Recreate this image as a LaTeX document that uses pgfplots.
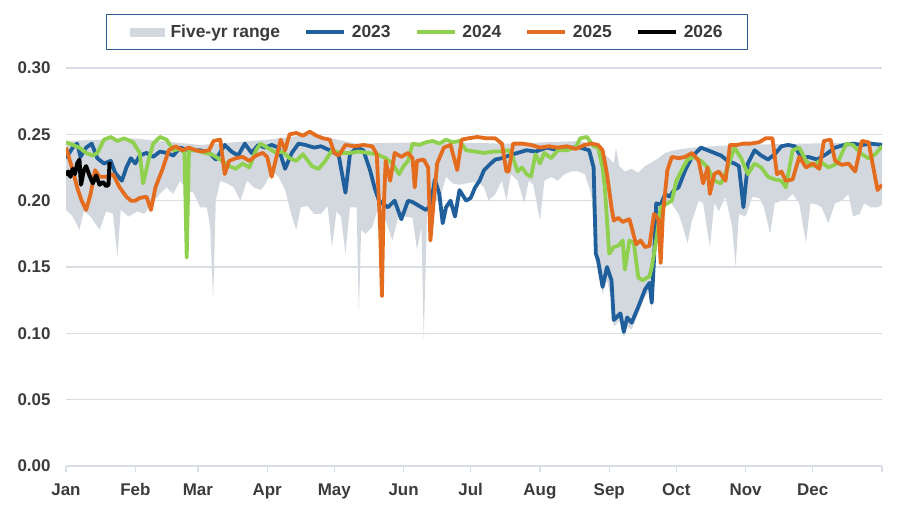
\documentclass[border=0pt]{standalone}
\usepackage{pgfplots}
\pgfplotsset{compat=1.18}
\usepgfplotslibrary{fillbetween}
\usepackage{fontspec}
\setmainfont{Liberation Sans}
\definecolor{c23}{HTML}{1F5F9B}
\definecolor{c24}{HTML}{8FD14F}
\definecolor{c25}{HTML}{E36C1F}
\definecolor{rangegray}{HTML}{D3D8DF}
\definecolor{gridgray}{HTML}{D9DEE5}
\definecolor{txt}{HTML}{3B3B3B}
\definecolor{legframe}{HTML}{2A5C8E}
\begin{document}
\begin{tikzpicture}
\begin{axis}[
  name=ax,
  scale only axis,
  width=816bp, height=398bp,
  xmin=0, xmax=365, ymin=0, ymax=0.30,
  axis x line*=bottom, axis y line*=left,
  x axis line style={gridgray, line width=1.2bp},
  y axis line style={draw=none},
  ymajorgrids,
  grid style={gridgray, line width=1.2bp},
  ytick={0,0.05,0.10,0.15,0.20,0.25,0.30},
  ytick style={draw=none},
  xtick={0,31,59,90,120,151,181,212,243,273,304,334,365},
  xticklabels={Jan,Feb,Mar,Apr,May,Jun,Jul,Aug,Sep,Oct,Nov,Dec,},
  xtick align=outside,
  major tick length=6bp,
  xtick style={gridgray, line width=1.2bp},
  tick label style={font=\bfseries\fontsize{17}{20}\selectfont, text=txt},
  xticklabel style={text height=12.5bp, text depth=3.5bp, yshift=-7bp},
  scaled y ticks=false,
  yticklabel style={xshift=-12bp, /pgf/number format/.cd, fixed, fixed zerofill, precision=2, assume math mode=true},
  legend columns=5,
  legend style={at={(0.049,1.136)}, anchor=north west, draw=legframe, line width=1.2bp,
    fill=white, font=\bfseries\fontsize{17.5}{20}\selectfont, text=txt,
    inner xsep=23bp, inner ysep=8.5bp,
    /tikz/every odd column/.append style={column sep=4bp},
    /tikz/every even column/.append style={column sep=22bp}},
  legend image code/.code={\draw[#1] (0bp,0bp) -- (38bp,0bp);},
]
% five-year range
\addplot[name path=up, draw=none, forget plot] coordinates {
(0,0.245) (30,0.247) (60,0.242) (90,0.246) (110,0.250) (130,0.243) (160,0.244)
(200,0.243) (230,0.245) (236,0.242) (240,0.236) (243,0.232) (245,0.228) (246,0.240)
(247.5,0.226) (250,0.222) (253,0.224) (256,0.221) (259,0.226) (262,0.229) (265,0.232)
(268,0.236) (272,0.238) (280,0.240) (300,0.242) (330,0.243) (365,0.244)};
\addplot[name path=lo, draw=none, forget plot] coordinates {
(0,0.193) (3,0.188) (6,0.178) (8,0.192) (11,0.188) (15,0.178) (18,0.192) (21,0.190)
(23,0.158) (24.5,0.193) (28,0.188) (32,0.192) (35,0.190) (38,0.197) (42,0.205) (45,0.210)
(48,0.205) (51,0.215) (54,0.208) (57,0.206) (60,0.195) (63,0.195) (64.5,0.180) (65.8,0.125)
(67,0.200) (69,0.215) (72,0.213) (75,0.210) (78,0.200) (81,0.215) (84,0.210) (87,0.208)
(89,0.212) (92,0.222) (95,0.218) (98,0.208) (101,0.188) (103,0.178) (105,0.195) (108,0.196)
(111,0.190) (114,0.190) (117,0.196) (119,0.165) (121,0.192) (123,0.188) (125,0.160) (127,0.195)
(130,0.195) (131,0.115) (132,0.178) (134,0.175) (137,0.180) (140,0.197) (143,0.185) (146,0.170)
(149,0.190) (152,0.188) (155,0.187) (157,0.163) (159,0.180) (160,0.095) (161.5,0.190) (164,0.200)
(167,0.200) (170,0.218) (173,0.213) (176,0.212) (179,0.213) (182,0.214) (185,0.213) (187,0.210)
(189,0.200) (192,0.205) (195,0.215) (197,0.200) (199,0.220) (202,0.215) (205,0.198) (207,0.215)
(209,0.212) (212,0.185) (214,0.215) (217,0.218) (220,0.215) (223,0.220) (226,0.222) (229,0.222)
(232,0.220) (235,0.205) (237,0.155) (240,0.130) (242,0.140) (244,0.125) (245,0.105) (248,0.110)
(249.5,0.097) (251,0.105) (253,0.103) (256,0.115) (259,0.128) (261,0.132) (262,0.118) (263,0.150)
(264,0.190) (266,0.195) (268,0.198) (270,0.200) (272,0.195) (274,0.190) (276,0.180) (278,0.168)
(280,0.185) (283,0.200) (285,0.198) (288,0.165) (290,0.198) (292,0.192) (295,0.203) (298,0.180)
(299.5,0.150) (301,0.190) (304,0.188) (307,0.203) (310,0.202) (312,0.196) (315,0.175) (317,0.198)
(320,0.200) (322,0.200) (325,0.205) (328,0.198) (331,0.168) (333,0.198) (336,0.197) (338,0.195)
(341,0.183) (344,0.198) (347,0.200) (350,0.205) (352,0.188) (355,0.190) (357,0.198) (360,0.195)
(363,0.195) (365,0.197)};
\addplot[fill=rangegray, draw=none,
  legend image code/.code={\fill[rangegray] (0bp,-4.5bp) rectangle (35bp,4.5bp);}]
  fill between[of=up and lo];
\addlegendentry{Five-yr range}
% 2023
\addplot[c23, line width=3.8bp, line join=round] coordinates {
(0,0.232) (3,0.240) (5,0.243) (6.5,0.233) (9,0.240) (11.5,0.243) (14,0.232) (17,0.228)
(20,0.230) (22,0.221) (25,0.215) (27,0.225) (29,0.232) (31,0.228) (33,0.234) (36,0.236)
(39,0.233) (42,0.237) (45,0.236) (48,0.234) (51,0.240) (55,0.238) (60,0.238) (64,0.236)
(67,0.231) (71,0.242) (74,0.237) (77,0.234) (80,0.243) (83,0.236) (86,0.242) (89,0.240)
(92,0.242) (95,0.240) (98,0.224) (101,0.236) (104,0.243) (107,0.242) (111,0.240) (114,0.241)
(118,0.238) (122,0.234) (125,0.206) (127,0.235) (130,0.240) (133,0.238) (136,0.223) (138,0.210)
(140,0.200) (144,0.195) (147,0.200) (150,0.186) (153,0.200) (155,0.199) (158,0.196) (161,0.193)
(163,0.196) (165,0.216) (167,0.205) (168.5,0.183) (170,0.195) (172,0.200) (174,0.188) (176,0.208)
(179,0.200) (181,0.202) (183,0.210) (185,0.215) (187,0.223) (190,0.228) (192,0.231) (195,0.232)
(198,0.234) (202,0.236) (206,0.238) (210,0.237) (215,0.240) (220,0.238) (225,0.240) (230,0.240)
(234,0.238) (236,0.225) (237,0.160) (238,0.155) (240,0.135) (242,0.150) (244,0.140) (245,0.110)
(248,0.115) (249.5,0.101) (251,0.112) (253,0.108) (256,0.120) (259,0.133) (261,0.138) (262,0.123)
(263,0.155) (264,0.198) (266,0.197) (268,0.205) (270,0.203) (272,0.208) (274,0.210) (277,0.223)
(280,0.233) (284,0.240) (287,0.238) (290,0.236) (293,0.234) (296,0.230) (299,0.228) (301,0.226)
(303,0.195) (305,0.228) (308,0.238) (311,0.234) (314,0.231) (317,0.235) (320,0.241) (323,0.242)
(326,0.241) (329,0.232) (332,0.233) (336,0.231) (340,0.235) (344,0.240) (348,0.242) (352,0.243)
(356,0.242) (360,0.243) (365,0.242)};
\addlegendentry{2023}
% 2024
\addplot[c24, line width=3.8bp, line join=round] coordinates {
(0,0.244) (3,0.242) (6,0.240) (9,0.236) (12,0.234) (14,0.236) (17,0.246) (20,0.248)
(23,0.245) (26,0.247) (30,0.244) (33,0.236) (34.5,0.213) (37,0.231) (39,0.243) (42,0.248)
(45,0.246) (48,0.238) (51,0.239) (53,0.236) (54,0.157) (55,0.238) (58,0.238) (62,0.236)
(65,0.235) (67,0.233) (70,0.230) (73,0.226) (76,0.224) (79,0.228) (82,0.225) (85,0.238)
(87,0.243) (90,0.240) (94,0.236) (97,0.237) (100,0.232) (103,0.230) (106,0.235) (110,0.226)
(113,0.224) (116,0.230) (119,0.238) (123,0.236) (127,0.236) (131,0.237) (135,0.236) (139,0.235)
(143,0.232) (146,0.228) (149,0.220) (151,0.226) (153,0.230) (155,0.243) (158,0.242) (161,0.244)
(164,0.245) (167,0.243) (170,0.246) (173,0.244) (176,0.245) (179,0.238) (183,0.237) (187,0.236)
(191,0.237) (195,0.237) (198,0.238) (200,0.232) (202,0.222) (204,0.225) (206,0.220) (208,0.218)
(210,0.235) (212,0.228) (214,0.236) (217,0.232) (220,0.238) (224,0.238) (228,0.240) (230,0.247)
(233,0.248) (236,0.241) (238,0.240) (240,0.225) (241,0.210) (243,0.160) (245,0.165) (247,0.166)
(249,0.170) (250,0.148) (252,0.170) (254,0.168) (256,0.142) (258,0.140) (261,0.143) (262,0.150)
(264,0.170) (266,0.195) (269,0.198) (271,0.200) (273,0.215) (276,0.225) (278,0.231) (281,0.233)
(284,0.230) (287,0.225) (290,0.215) (293,0.213) (296,0.225) (299,0.240) (302,0.232) (305,0.220)
(308,0.228) (311,0.225) (314,0.218) (317,0.216) (320,0.215) (322,0.210) (325,0.238) (328,0.240)
(331,0.230) (334,0.226) (337,0.230) (341,0.225) (345,0.228) (349,0.243) (352,0.242) (356,0.235)
(359,0.232) (362,0.235) (365,0.241)};
\addlegendentry{2024}
% 2025
\addplot[c25, line width=3.8bp, line join=round] coordinates {
(0,0.240) (3,0.223) (5,0.210) (7,0.200) (9,0.193) (11,0.205) (13,0.223) (15,0.218)
(18,0.218) (21,0.220) (24,0.210) (27,0.203) (29,0.200) (31,0.200) (33,0.202) (36,0.203)
(38,0.193) (40,0.210) (43,0.223) (46,0.238) (49,0.241) (52,0.238) (55,0.240) (58,0.238)
(61,0.237) (64,0.238) (66,0.245) (69,0.246) (71,0.220) (73,0.230) (76,0.232) (79,0.233)
(82,0.230) (85,0.234) (88,0.236) (90,0.233) (92,0.218) (94,0.232) (96,0.246) (98,0.238)
(100,0.250) (103,0.251) (106,0.249) (109,0.252) (112,0.249) (115,0.247) (118,0.246) (120,0.236)
(122,0.234) (125,0.242) (129,0.241) (133,0.242) (137,0.241) (139,0.235) (140.5,0.180) (141.3,0.128)
(142,0.190) (143,0.230) (145,0.215) (147,0.236) (150,0.233) (153,0.236) (155,0.232) (156,0.210)
(157,0.230) (160,0.231) (162,0.225) (163,0.170) (164.5,0.200) (166,0.228) (169,0.240) (172,0.242)
(175,0.223) (177,0.246) (180,0.247) (184,0.248) (188,0.247) (192,0.247) (195,0.243) (197,0.222)
(198,0.222) (200,0.243) (204,0.243) (208,0.242) (212,0.240) (216,0.241) (220,0.240) (224,0.241)
(228,0.239) (232,0.242) (235,0.243) (238,0.242) (240,0.238) (242,0.220) (244,0.195) (245,0.185)
(247,0.187) (249,0.184) (252,0.186) (253,0.180) (255,0.167) (257,0.170) (259,0.165) (261,0.166)
(263,0.190) (265,0.186) (266,0.153) (267,0.190) (269,0.223) (271,0.233) (274,0.232) (277,0.233)
(280,0.236) (283,0.230) (285,0.213) (287,0.225) (288,0.205) (290,0.220) (292,0.222) (295,0.215)
(297,0.242) (300,0.242) (303,0.243) (306,0.243) (310,0.244) (313,0.247) (316,0.247) (318,0.220)
(320,0.222) (322,0.215) (325,0.216) (328,0.233) (331,0.225) (334,0.228) (337,0.224) (339,0.245)
(342,0.246) (344,0.230) (347,0.227) (350,0.228) (353,0.222) (356,0.245) (359,0.244) (361,0.226)
(363,0.208) (365,0.212)};
\addlegendentry{2025}
% 2026
\addplot[black, line width=4bp, line join=round] coordinates {
(0,0.219) (1,0.222) (2,0.218) (3,0.224) (4,0.220) (5,0.228) (6,0.231) (6.7,0.212)
(8,0.223) (9,0.226) (10.5,0.219) (12,0.213) (13.5,0.219) (15,0.212) (16.5,0.214) (18,0.211)
(19,0.212) (19.5,0.229)};
\addlegendentry{2026}
\end{axis}
\path ([shift={(-66bp,-47bp)}]ax.south west) rectangle ([shift={(23bp,68bp)}]ax.north east);
\end{tikzpicture}
\end{document}
